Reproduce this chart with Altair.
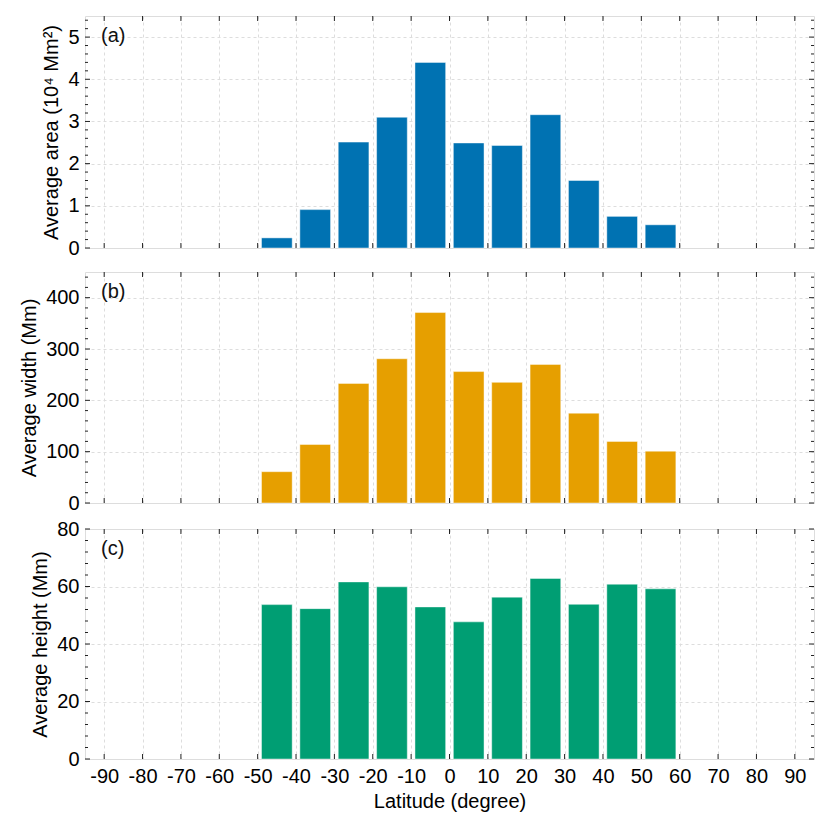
import altair as alt
import pandas as pd

# ---- data ----
lat = [-45, -35, -25, -15, -5, 5, 15, 25, 35, 45, 55]
area = [0.24, 0.91, 2.51, 3.10, 4.40, 2.49, 2.43, 3.16, 1.60, 0.75, 0.55]
width_mm = [61, 114, 233, 281, 371, 256, 235, 270, 175, 120, 101]
height_mm = [53.7, 52.3, 61.6, 59.9, 52.9, 47.7, 56.3, 62.8, 53.8, 60.8, 59.2]
x_ticks = [-90, -80, -70, -60, -50, -40, -30, -20, -10, 0, 10, 20, 30, 40, 50, 60, 70, 80, 90]

area_major = [0, 1, 2, 3, 4, 5]
width_major = [0, 100, 200, 300, 400]
height_major = [0, 20, 40, 60, 80]

FONT = "Liberation Sans"
W = 729
TICK = "#222222"

panels = [
    dict(vals=area, color="#0072B2", title="Average area (10⁴ Mm²)", dom=[0, 5.5],
         major=area_major, step=0.2, H=232, label="(a)"),
    dict(vals=width_mm, color="#E69F00", title="Average width (Mm)", dom=[0, 450],
         major=width_major, step=20, H=231, label="(b)"),
    dict(vals=height_mm, color="#009E73", title="Average height (Mm)", dom=[0, 80],
         major=height_major, step=4, H=230, label="(c)"),
]

xs = alt.Scale(domain=[-95, 95], nice=False, zero=False)
xt_df = pd.DataFrame({"t": x_ticks})


def make_panel(p, bottom):
    H = p["H"]
    ys = alt.Scale(domain=p["dom"], nice=False, zero=True)
    df = pd.DataFrame({"lat": lat, "val": p["vals"]})
    n_minor = int(round(p["dom"][1] / p["step"]))
    minor = [round(i * p["step"], 6) for i in range(n_minor + 1)]
    minor = [m for m in minor if all(abs(m - M) > 1e-9 for M in p["major"]) and m < p["dom"][1]]
    ymaj_df = pd.DataFrame({"t": p["major"]})
    ymin_df = pd.DataFrame({"t": minor})

    if bottom:
        xaxis = alt.Axis(values=x_ticks, grid=True, gridDash=[3, 3], gridColor="#dddddd",
                         ticks=False, domain=False, labelFontSize=20, labelPadding=7,
                         labelColor="#000", labelExpr="'' + datum.value", labelFont=FONT,
                         title="Latitude (degree)", titleFontSize=20, titleFontWeight="normal",
                         titleFont=FONT, titleColor="#000", titlePadding=5, labelFlush=False)
    else:
        xaxis = alt.Axis(values=x_ticks, grid=True, gridDash=[3, 3], gridColor="#dddddd",
                         ticks=False, domain=False, labels=False, title=None)
    yaxis = alt.Axis(values=p["major"], grid=True, gridDash=[3, 3], gridColor="#dddddd",
                     ticks=False, domain=False, labelFontSize=20, labelPadding=6,
                     labelColor="#000", labelExpr="'' + datum.value", labelFont=FONT,
                     title=p["title"], titleFontSize=20, titleFontWeight="normal",
                     titleFont=FONT, titleColor="#000", titlePadding=6)

    bars = alt.Chart(df).transform_calculate(
        lo="datum.lat - 4", hi="datum.lat + 4"
    ).mark_bar(color=p["color"], stroke="white", strokeWidth=1, strokeOpacity=0.45).encode(
        x=alt.X("lo:Q", scale=xs, axis=xaxis),
        x2="hi:Q",
        y=alt.Y("val:Q", scale=ys, axis=yaxis),
        y2=alt.datum(0),
    )

    def xrule(y1, y2):
        return alt.Chart(xt_df).mark_rule(color=TICK, strokeWidth=1).encode(
            x=alt.X("t:Q", scale=xs), y=alt.value(y1), y2=alt.value(y2))

    def yrule(d, x1, x2):
        return alt.Chart(d).mark_rule(color=TICK, strokeWidth=1).encode(
            y=alt.Y("t:Q", scale=ys), x=alt.value(x1), x2=alt.value(x2))

    label = alt.Chart(pd.DataFrame({"s": [p["label"]]})).mark_text(
        align="left", baseline="middle", fontSize=20, font=FONT, color="#111"
    ).encode(x=alt.value(16), y=alt.value(20), text="s:N")

    layers = [
        bars,
        xrule(H, H - 5), xrule(0, 5),
        yrule(ymaj_df, 0, 5), yrule(ymaj_df, W, W - 5),
        yrule(ymin_df, 0, 3), yrule(ymin_df, W, W - 3),
        label,
    ]
    return alt.layer(*layers).properties(width=W, height=H)


top_two = alt.vconcat(
    make_panel(panels[0], False),
    make_panel(panels[1], False),
    spacing=12,
)

chart = alt.vconcat(
    top_two,
    make_panel(panels[2], True),
    spacing=4,
).properties(
    padding={"left": 11, "top": 7, "right": 5, "bottom": 5},
    background="white",
).configure_view(
    stroke="#333333", strokeWidth=1
).configure(font=FONT)

chart.save("out.html", embed_options={"renderer": "svg", "actions": False})
